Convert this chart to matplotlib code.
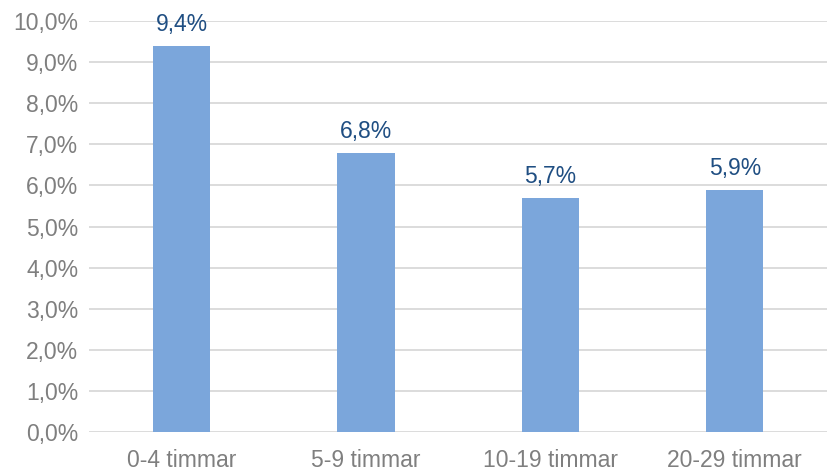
import matplotlib
matplotlib.use("Agg")
import matplotlib.pyplot as plt
from matplotlib.ticker import FuncFormatter, MultipleLocator

categories = ["0-4 timmar", "5-9 timmar", "10-19 timmar", "20-29 timmar"]
values = [9.4, 6.8, 5.7, 5.9]

plt.rcParams['font.family'] = ['Liberation Sans', 'DejaVu Sans']

fig = plt.figure(figsize=(8.27, 4.70), dpi=100)
ax = fig.add_axes([0.108, 0.081, 0.892, 0.874])

x = range(len(categories))
ax.bar(x, values, width=0.31, color="#7BA6DB", zorder=3)
for xi, v in zip(x, values):
    ax.annotate(f"{v:.1f}%".replace(".", ","), (xi, v), xytext=(0, 7),
                textcoords="offset points", ha="center", va="bottom",
                fontsize=16.5, color="#1F4E82")

ax.set_xlim(-0.5, 3.5)
ax.set_ylim(0, 10)
ax.yaxis.set_major_locator(MultipleLocator(1))
ax.yaxis.set_major_formatter(FuncFormatter(lambda v, p: f"{v:.1f}%".replace(".", ",")))
ax.set_xticks(list(x))
ax.set_xticklabels(categories)
ax.grid(axis="y", color="#D9D9D9", linewidth=1.3, zorder=0)
for s in ax.spines.values():
    s.set_visible(False)
ax.tick_params(axis="both", length=0, labelsize=16.5, labelcolor="#7F7F7F")
ax.tick_params(axis="y", pad=8)
ax.tick_params(axis="x", pad=12)

fig.savefig("out.png", dpi=100)
